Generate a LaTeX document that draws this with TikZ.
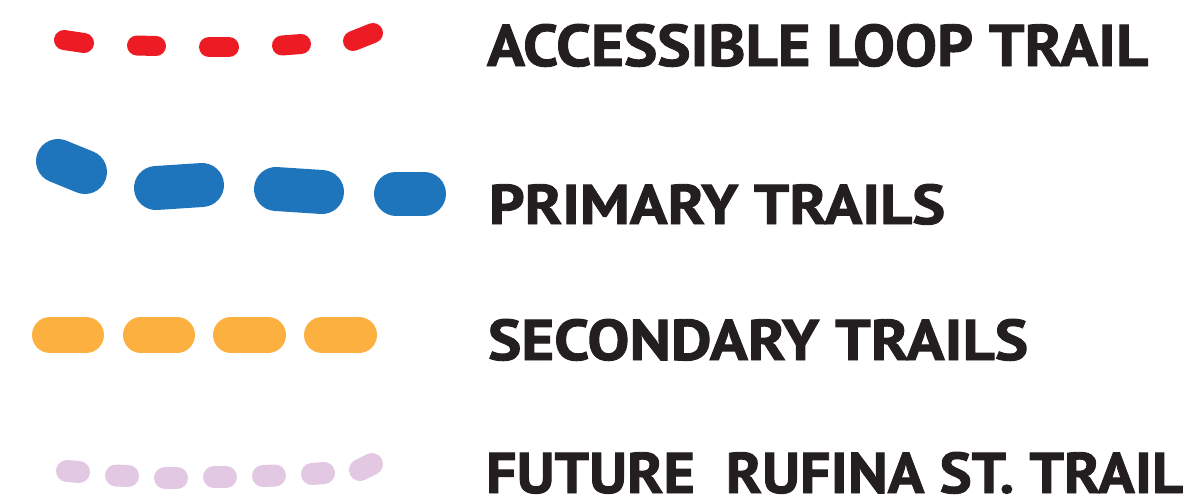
\documentclass[tikz,border=0pt]{standalone}
\usepackage{fontspec}
\setmainfont{PT Sans}[BoldFeatures={FakeBold=1.6}]
\usepackage{graphicx}
\definecolor{trailred}{HTML}{ED1C24}
\definecolor{trailblue}{HTML}{1E75BB}
\definecolor{trailorange}{HTML}{FBB040}
\definecolor{trailpurple}{HTML}{E3C8E3}
\definecolor{legendink}{HTML}{231F20}
\tikzset{
  dashseg/.style={line cap=round},
  accessible/.style={dashseg, draw=trailred, line width=20pt},
  primary/.style={dashseg, draw=trailblue, line width=44pt},
  secondary/.style={dashseg, draw=trailorange, line width=36pt},
  future/.style={dashseg, draw=trailpurple, line width=22pt},
  legendtext/.style={anchor=base west, inner sep=0pt, outer sep=0pt, text=legendink, font=\bfseries}
}
\begin{document}
\begin{tikzpicture}[x=1pt, y=-1pt]
  \useasboundingbox (0,0) rectangle (1190,499);

  % accessible loop trail
  \draw[accessible] (64,40) -- (84,43);
  \draw[accessible] (137,45.5) -- (156,46);
  \draw[accessible] (209,47) -- (229,47);
  \draw[accessible] (282,45.5) -- (301,44);
  \draw[accessible] (353,41) -- (373,33);

  % primary trails
  \draw[primary] (58,161) -- (85,172);
  \draw[primary] (156,188) -- (202,185);
  \draw[primary] (276,189) -- (322,192);
  \draw[primary] (396,193.5) -- (424,193.5);

  % secondary trails
  \draw[secondary] (50,335) -- (86,335);
  \draw[secondary] (141,335) -- (177,335);
  \draw[secondary] (231,335) -- (268,335);
  \draw[secondary] (322,335) -- (359,335);

  % future trail
  \draw[future] (67,471) -- (79,472);
  \draw[future] (116,475.5) -- (128,476);
  \draw[future] (165,478) -- (177,478);
  \draw[future] (214,477) -- (226,477);
  \draw[future] (263,476) -- (275,475.5);
  \draw[future] (312,474) -- (324,473);
  \draw[future] (360,470) -- (372,464);

  % labels
  \node[legendtext] (lblaccessible) at (487,66) {\resizebox{661pt}{42pt}{ACCESSIBLE LOOP TRAIL}};
  \node[legendtext] (lblprimary) at (489,224) {\resizebox{456pt}{40pt}{PRIMARY TRAILS}};
  \node[legendtext] (lblsecondary) at (488,360) {\resizebox{540pt}{41pt}{SECONDARY TRAILS}};
  \node[legendtext] (lblfuture) at (486,493) {\resizebox{697pt}{41pt}{FUTURE~~RUFINA ST. TRAIL}};
\end{tikzpicture}
\end{document}
